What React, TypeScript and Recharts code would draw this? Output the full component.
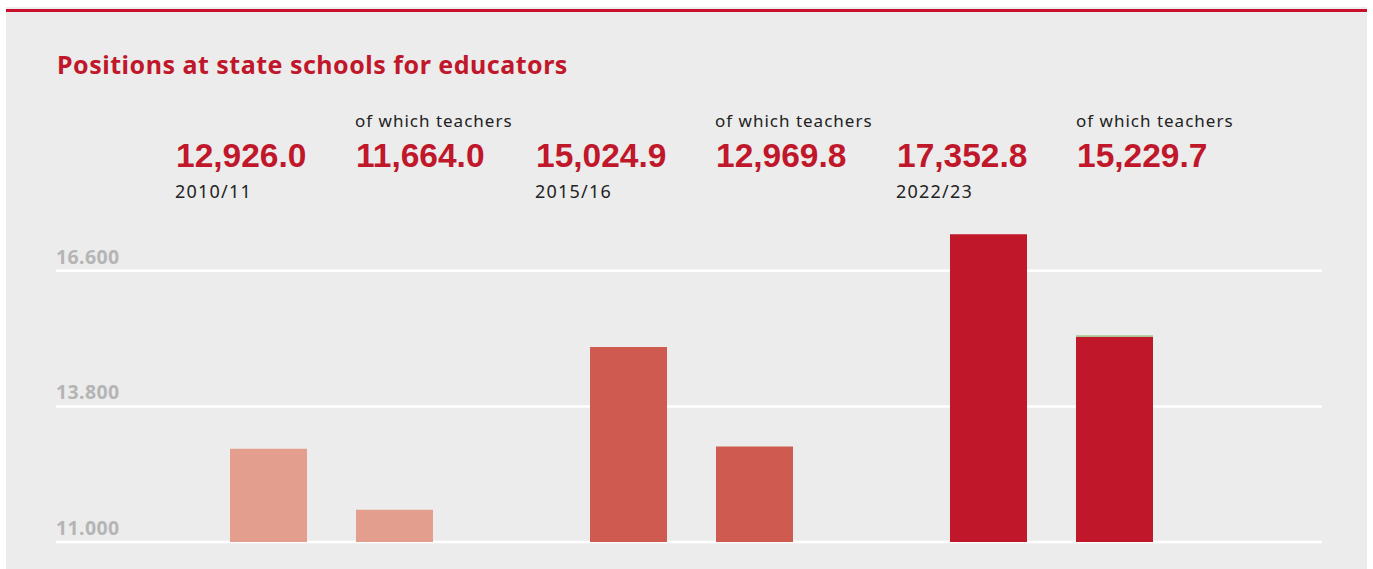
import React from "react";
import { BarChart, Bar, XAxis, YAxis, CartesianGrid, Cell } from "recharts";

const years = ["2010/11", "2015/16", "2022/23"];
const totalPositions = [12926.0, 15024.9, 17352.8];
const teacherPositions = [11664.0, 12969.8, 15229.7];
const teacherExtra = [0, 0, 40];
const groupColors = ["#E39E8E", "#CF5A4F", "#C0172B"];
const yTicks = [11000, 13800, 16600];
const yTickLabels = ["11.000", "13.800", "16.600"];
const headerLeft = [176, 536, 897];
const teacherLeft = [356, 716, 1077];

const data = years.map((y, i) => ({
  year: y,
  total: totalPositions[i],
  teachers: teacherPositions[i],
  extra: teacherExtra[i],
}));

const fmt = (v: number) =>
  v.toLocaleString("en-US", { minimumFractionDigits: 1, maximumFractionDigits: 1 });

const RED = "#C0172B";

const renderYTick = (props: any) => {
  const { x, y, payload } = props;
  const idx = yTicks.indexOf(payload.value);
  return (
    <text
      key={`yt-${payload.value}`}
      x={x}
      y={y - 7}
      textAnchor="start"
      fill="#b5b5b5"
      fontFamily="'Noto Sans', sans-serif"
      fontWeight={700}
      fontSize={19.5}
      letterSpacing={0.4}
    >
      {idx >= 0 ? yTickLabels[idx] : String(payload.value)}
    </text>
  );
};

export default function App() {
  return (
    <div style={{ position: "absolute", left: 0, top: 0, width: 1373, height: 569, background: "#fff", overflow: "hidden" }}>
      <div style={{ position: "absolute", left: 6, top: 7, width: 1361, height: 562, background: "#ececec" }} />
      <div style={{ position: "absolute", left: 6, top: 9, width: 1361, height: 3, background: "#C8102E" }} />
      <div
        style={{
          position: "absolute",
          left: 57,
          top: 48,
          fontFamily: "'Noto Sans', sans-serif",
          fontWeight: 700,
          fontSize: 25,
          letterSpacing: 0.5,
          color: RED,
          whiteSpace: "nowrap",
          lineHeight: "32px",
        }}
      >
        Positions at state schools for educators
      </div>
      {years.map((y, i) => (
        <React.Fragment key={y}>
          <div
            style={{
              position: "absolute",
              left: headerLeft[i],
              top: 136,
              fontFamily: "'Liberation Sans', Arial, sans-serif",
              fontWeight: 700,
              fontSize: 33.5,
              color: RED,
              lineHeight: "40px",
              whiteSpace: "nowrap",
            }}
          >
            {fmt(totalPositions[i])}
          </div>
          <div
            style={{
              position: "absolute",
              left: headerLeft[i] - 1,
              top: 179,
              fontFamily: "'Noto Sans', sans-serif",
              fontSize: 18,
              letterSpacing: 1.2,
              color: "#222",
              lineHeight: "24px",
              whiteSpace: "nowrap",
            }}
          >
            {y}
          </div>
          <div
            style={{
              position: "absolute",
              left: teacherLeft[i] - 1,
              top: 109,
              fontFamily: "'Noto Sans', sans-serif",
              fontSize: 17,
              letterSpacing: 1,
              color: "#222",
              lineHeight: "24px",
              whiteSpace: "nowrap",
            }}
          >
            of which teachers
          </div>
          <div
            style={{
              position: "absolute",
              left: teacherLeft[i],
              top: 136,
              fontFamily: "'Liberation Sans', Arial, sans-serif",
              fontWeight: 700,
              fontSize: 33.5,
              color: RED,
              lineHeight: "40px",
              whiteSpace: "nowrap",
            }}
          >
            {fmt(teacherPositions[i])}
          </div>
        </React.Fragment>
      ))}
      <div style={{ position: "absolute", left: 0, top: 0 }}>
        <BarChart
          width={1373}
          height={569}
          data={data}
          margin={{ top: 232, right: 51, bottom: 27, left: 0 }}
          barCategoryGap={78}
          barGap={49}
        >
          <CartesianGrid vertical={false} horizontalValues={yTicks} stroke="#ffffff" strokeWidth={2.5} />
          <XAxis dataKey="year" hide padding={{ left: 95, right: 91 }} />
          <YAxis
            width={56}
            domain={[11000, 17400]}
            ticks={yTicks}
            interval={0}
            axisLine={false}
            tickLine={false}
            tickSize={0}
            tickMargin={0}
            tick={renderYTick}
            allowDataOverflow
          />
          <Bar dataKey="total" stackId="a" barSize={77} isAnimationActive={false}>
            {data.map((d, i) => (
              <Cell key={d.year} fill={groupColors[i]} />
            ))}
          </Bar>
          <Bar dataKey="teachers" stackId="t" barSize={77} isAnimationActive={false}>
            {data.map((d, i) => (
              <Cell key={d.year} fill={groupColors[i]} />
            ))}
          </Bar>
          <Bar dataKey="extra" stackId="t" barSize={77} fill="#A9C48F" isAnimationActive={false} />
        </BarChart>
      </div>
    </div>
  );
}
